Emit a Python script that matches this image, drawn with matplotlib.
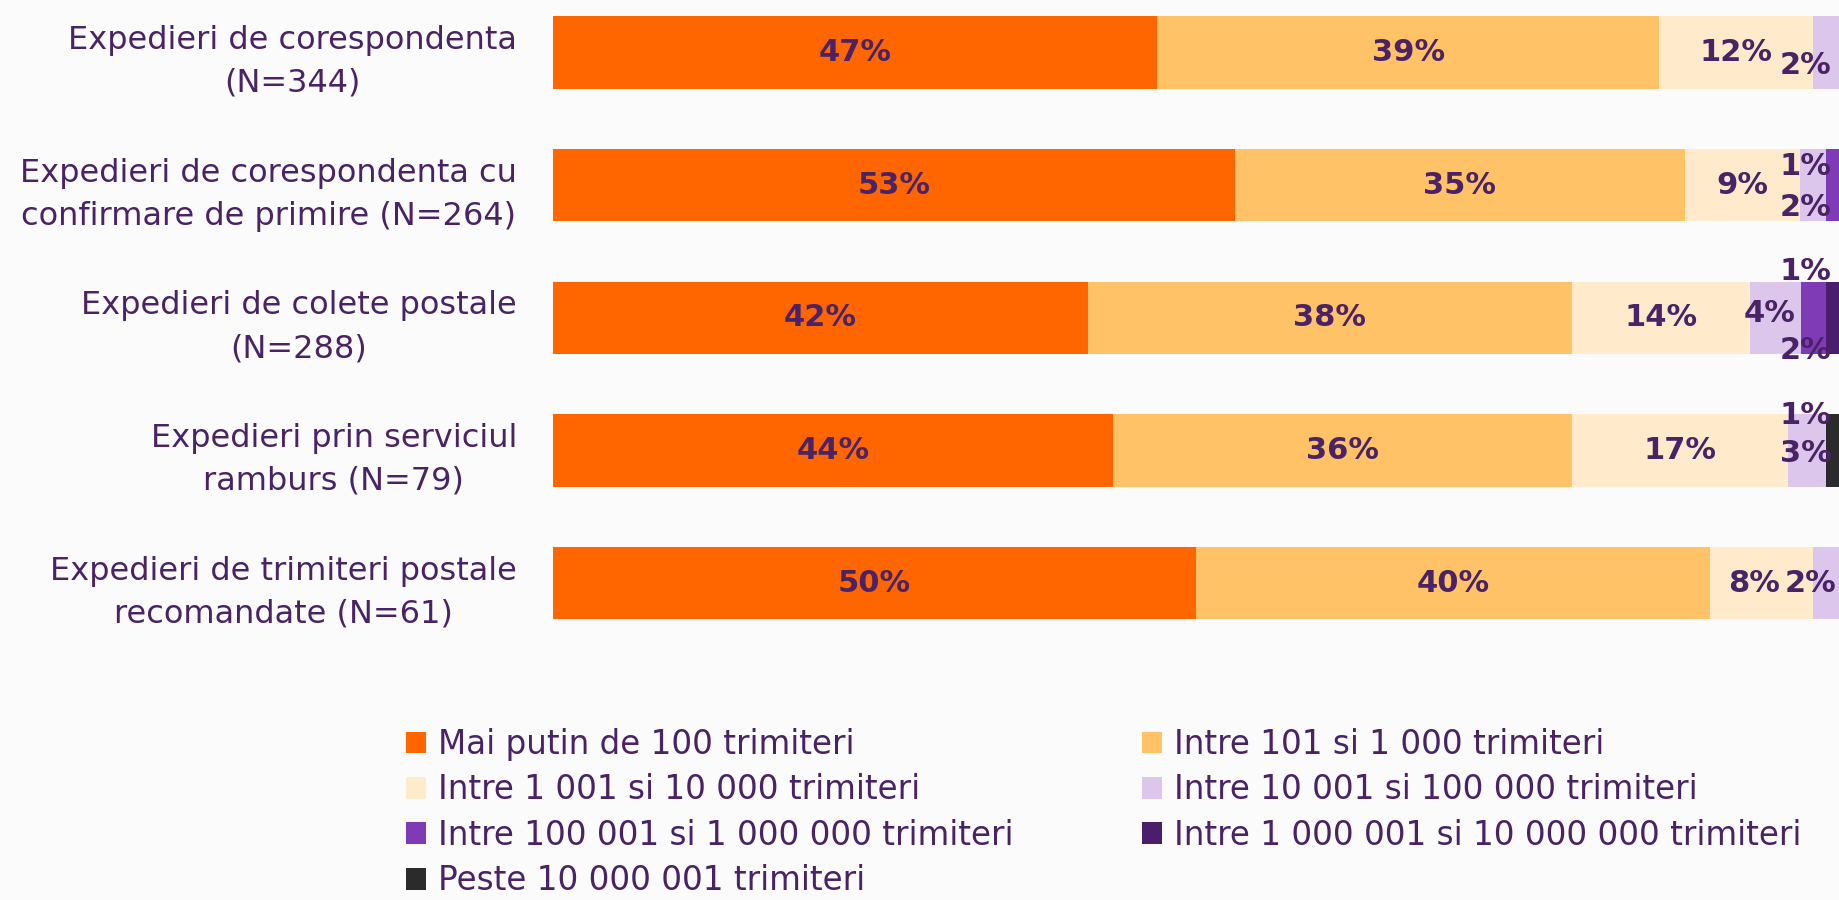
import numpy as np
import matplotlib
matplotlib.use("Agg")
import matplotlib.pyplot as plt
from matplotlib.patches import Patch

# categories (top to bottom)
categories = [
    "Expedieri de corespondenta\n(N=344)",
    "Expedieri de corespondenta cu\nconfirmare de primire (N=264)",
    "Expedieri de colete postale\n(N=288)",
    "Expedieri prin serviciul\nramburs (N=79)",
    "Expedieri de trimiteri postale\nrecomandate (N=61)",
]

series_names = [
    "Mai putin de 100 trimiteri",
    "Intre 101 si 1 000 trimiteri",
    "Intre 1 001 si 10 000 trimiteri",
    "Intre 10 001 si 100 000 trimiteri",
    "Intre 100 001 si 1 000 000 trimiteri",
    "Intre 1 000 001 si 10 000 000 trimiteri",
    "Peste 10 000 001 trimiteri",
]

# percentages per series, one value per category
s_lt100 = [47, 53, 42, 44, 50]
s_101_1k = [39, 35, 38, 36, 40]
s_1k_10k = [12, 9, 14, 17, 8]
s_10k_100k = [2, 2, 4, 3, 2]
s_100k_1m = [0, 1, 2, 0, 0]
s_1m_10m = [0, 0, 1, 0, 0]
s_over10m = [0, 0, 0, 1, 0]

colors = ["#ff6600", "#ffc266", "#ffebcc", "#dcc6ec",
          "#7f3ab5", "#4a1e6b", "#2b2b2b"]
text_col = "#4a2366"
bg = "#fbfbfb"

data = np.array([s_lt100, s_101_1k, s_1k_10k, s_10k_100k,
                 s_100k_1m, s_1m_10m, s_over10m], dtype=float)
# 100% stacked: normalise each category
shares = data / data.sum(axis=0) * 100

# manual label placement for the thin segments: (series, row) -> (x, dy)
label_moves = {
    (3, 0): (97.4, 0.10),
    (3, 1): (97.4, 0.17), (4, 1): (97.4, -0.14),
    (3, 2): (94.6, -0.03), (4, 2): (97.4, 0.25), (5, 2): (97.4, -0.35),
    (3, 3): (97.4, 0.02), (6, 3): (97.4, -0.26),
    (2, 4): (93.4, 0.0), (3, 4): (97.8, 0.0),
}

fig = plt.figure(figsize=(18.39, 9), dpi=100, facecolor=bg)
ax = fig.add_axes([553 / 1839, 1 - 650 / 900, 1 - 553 / 1839, 650 / 900])
ax.set_facecolor(bg)

y = np.arange(len(categories))
left = np.zeros(len(categories))
for i, name in enumerate(series_names):
    ax.barh(y, shares[i], left=left, height=0.545, color=colors[i],
            label=name, linewidth=0)
    for j in range(len(categories)):
        if data[i, j] <= 0:
            continue
        cx = left[j] + shares[i, j] / 2
        cy = y[j]
        if (i, j) in label_moves:
            cx, dy = label_moves[(i, j)]
            cy = y[j] + dy
        ax.text(cx, cy, f"{int(data[i, j])}%", ha="center", va="center",
                fontsize=22, fontweight="bold", color=text_col)
    left += shares[i]

ax.set_xlim(0, 100)
ax.set_ylim(4.505, -0.395)
ax.set_xticks([])
ax.set_yticks(y)
ax.set_yticklabels(categories, fontsize=23, color=text_col, ha="right")
for t in ax.get_yticklabels():
    t.set_multialignment("center")
    t.set_linespacing(1.5)
ax.tick_params(axis="y", length=0, pad=26)
for s in ax.spines.values():
    s.set_visible(False)

# legend laid out row by row in two columns
handles = [Patch(facecolor=c, edgecolor="none") for c in colors]
order = [0, 2, 4, 6, 1, 3, 5]
fig.legend([handles[k] for k in order], [series_names[k] for k in order],
           ncol=2, loc="upper left", bbox_to_anchor=(406 / 1839, 1 - 728 / 900),
           frameon=False, fontsize=23.5, labelcolor=text_col,
           handlelength=0.62, handleheight=0.65, handletextpad=0.35,
           columnspacing=3.95, labelspacing=0.38, borderpad=0, borderaxespad=0)

fig.savefig("out.png", dpi=100, facecolor=bg)
